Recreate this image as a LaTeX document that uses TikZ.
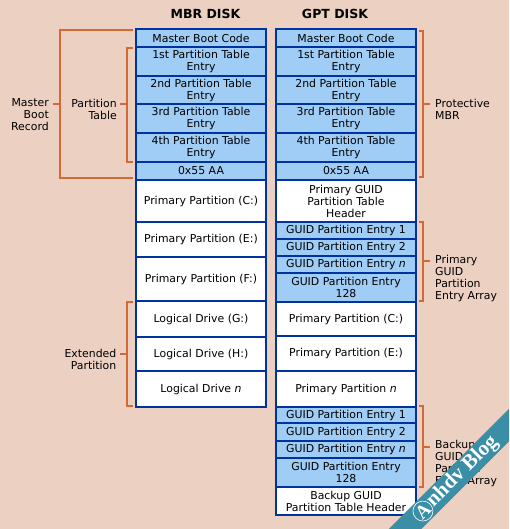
\documentclass[tikz,border=0pt]{standalone}
\usepackage{fontspec}
\setmainfont{DejaVu Sans}
\newfontfamily\wmfont{Liberation Serif}
\definecolor{bgc}{RGB}{236,208,193}
\definecolor{cellblue}{RGB}{160,205,245}
\definecolor{edgec}{RGB}{0,51,160}
\definecolor{brkc}{RGB}{210,105,55}
\definecolor{wmc}{RGB}{58,142,165}
\newcommand{\mkcell}[7]{%
  \node[cellbase,#1,minimum width={(#5-#3)*1pt},minimum height={(#6-#4)*1pt}] (#2) at ({(#3+#5)/2},{(#4+#6)/2}) {#7};}
\tikzset{
  cellbase/.style={draw=edgec, line width=1.1pt, inner sep=0pt, outer sep=0pt, align=center, font=\fontsize{10.9}{12}\selectfont},
  bluecell/.style={fill=cellblue},
  whitecell/.style={fill=white},
  groupbox/.style={draw=edgec, line width=2.8pt},
  bracket/.style={draw=brkc, line width=1.1pt},
  lbl/.style={inner sep=0pt, font=\fontsize{10.9}{12}\selectfont},
  heading/.style={inner sep=0pt, font=\bfseries\fontsize{12.5}{15}\selectfont},
}
\begin{document}
\begin{tikzpicture}[x=1pt,y=-1pt]
\useasboundingbox (0,0) rectangle (509,529);
\fill[bgc] (0,0) rectangle (509,529);

% headings
\node[heading] (hmbr) at (205.5,14) {MBR DISK};
\node[heading] (hgpt) at (335,14) {GPT DISK};

% MBR column
\mkcell{bluecell}{mbc}{136}{29}{266}{47}{Master Boot Code}
\mkcell{bluecell}{mp1}{136}{47}{266}{76}{1st Partition Table\\Entry}
\mkcell{bluecell}{mp2}{136}{76}{266}{104}{2nd Partition Table\\Entry}
\mkcell{bluecell}{mp3}{136}{104}{266}{133}{3rd Partition Table\\Entry}
\mkcell{bluecell}{mp4}{136}{133}{266}{162}{4th Partition Table\\Entry}
\mkcell{bluecell}{msig}{136}{162}{266}{180}{0x55 AA}
\mkcell{whitecell}{mpc}{136}{180}{266}{222}{Primary Partition (C:)}
\mkcell{whitecell}{mpe}{136}{222}{266}{257}{Primary Partition (E:)}
\mkcell{whitecell}{mpf}{136}{257}{266}{301}{Primary Partition (F:)}
\mkcell{whitecell}{mlg}{136}{301}{266}{337}{Logical Drive (G:)}
\mkcell{whitecell}{mlh}{136}{337}{266}{371}{Logical Drive (H:)}
\mkcell{whitecell}{mln}{136}{371}{266}{407}{Logical Drive \textit{n}}
\draw[groupbox] (mbc.north west) rectangle (msig.south east);
\draw[groupbox] (mlg.north west) rectangle (mln.south east);

% GPT column
\mkcell{bluecell}{gbc}{276}{29}{416}{47}{Master Boot Code}
\mkcell{bluecell}{gp1}{276}{47}{416}{76}{1st Partition Table\\Entry}
\mkcell{bluecell}{gp2}{276}{76}{416}{104}{2nd Partition Table\\Entry}
\mkcell{bluecell}{gp3}{276}{104}{416}{133}{3rd Partition Table\\Entry}
\mkcell{bluecell}{gp4}{276}{133}{416}{162}{4th Partition Table\\Entry}
\mkcell{bluecell}{gsig}{276}{162}{416}{180}{0x55 AA}
\mkcell{whitecell}{ghdr}{276}{180}{416}{222}{Primary GUID\\Partition Table\\Header}
\mkcell{bluecell}{ge1}{276}{222}{416}{239}{GUID Partition Entry 1}
\mkcell{bluecell}{ge2}{276}{239}{416}{256}{GUID Partition Entry 2}
\mkcell{bluecell}{gen}{276}{256}{416}{273}{GUID Partition Entry \textit{n}}
\mkcell{bluecell}{ge128}{276}{273}{416}{302}{GUID Partition Entry\\128}
\mkcell{whitecell}{gpc}{276}{302}{416}{336}{Primary Partition (C:)}
\mkcell{whitecell}{gpe}{276}{336}{416}{371}{Primary Partition (E:)}
\mkcell{whitecell}{gpn}{276}{371}{416}{407}{Primary Partition \textit{n}}
\mkcell{bluecell}{gb1}{276}{407}{416}{423}{GUID Partition Entry 1}
\mkcell{bluecell}{gb2}{276}{423}{416}{441}{GUID Partition Entry 2}
\mkcell{bluecell}{gbn}{276}{441}{416}{458}{GUID Partition Entry \textit{n}}
\mkcell{bluecell}{gb128}{276}{458}{416}{487}{GUID Partition Entry\\128}
\mkcell{whitecell}{gbhdr}{276}{487}{416}{515}{Backup GUID\\Partition Table Header}
\draw[groupbox] (gbc.north west) rectangle (gsig.south east);

% left brackets and labels
\draw[bracket] (133,30) -- (60,30) -- (60,178) -- (133,178);
\draw[bracket] (60,104) -- (53,104);
\node[lbl, align=right, anchor=east] (lmbr) at (49,115) {Master\\Boot\\Record};

\draw[bracket] (133,48) -- (127,48) -- (127,162) -- (133,162);
\draw[bracket] (127,104) -- (120,104);
\node[lbl, align=right, anchor=east] (lpt) at (117,109) {Partition\\Table};

\draw[bracket] (133,302) -- (127,302) -- (127,406) -- (133,406);
\draw[bracket] (127,354) -- (120,354);
\node[lbl, align=right, anchor=east] (lext) at (116.5,359) {Extended\\Partition};

% right brackets and labels
\draw[bracket] (419,31) -- (423,31) -- (423,177) -- (419,177);
\draw[bracket] (423,104) -- (430,104);
\node[lbl, align=left, anchor=west] (rpmbr) at (435,109) {Protective\\MBR};

\draw[bracket] (419,222) -- (423,222) -- (423,301) -- (419,301);
\draw[bracket] (423,261) -- (430,261);
\node[lbl, align=left, anchor=west] (rprim) at (435,278) {Primary\\GUID\\Partition\\Entry Array};

\draw[bracket] (419,406) -- (423,406) -- (423,487) -- (419,487);
\draw[bracket] (423,447) -- (430,447);
\node[lbl, align=left, anchor=west] (rback) at (435,463) {Backup\\GUID\\Partition\\Entry Array};

% watermark
\begin{scope}
\clip (0,0) rectangle (509,529);
\begin{scope}[shift={(459,475)}, rotate=45, transform shape]
\fill[wmc] (-130,-11.5) rectangle (130,11.5);
\node[draw=white, line width=0.6pt, circle, inner sep=0.5pt, minimum size=19pt, text=white, font=\wmfont\bfseries\fontsize{19}{22}\selectfont] (wma) at (-51,0) {A};
\node[anchor=west, inner sep=0pt, text=white, font=\wmfont\bfseries\fontsize{21}{24}\selectfont] (wmrest) at (-41,0) {nhdv Blog};
\end{scope}
\end{scope}
\end{tikzpicture}
\end{document}
